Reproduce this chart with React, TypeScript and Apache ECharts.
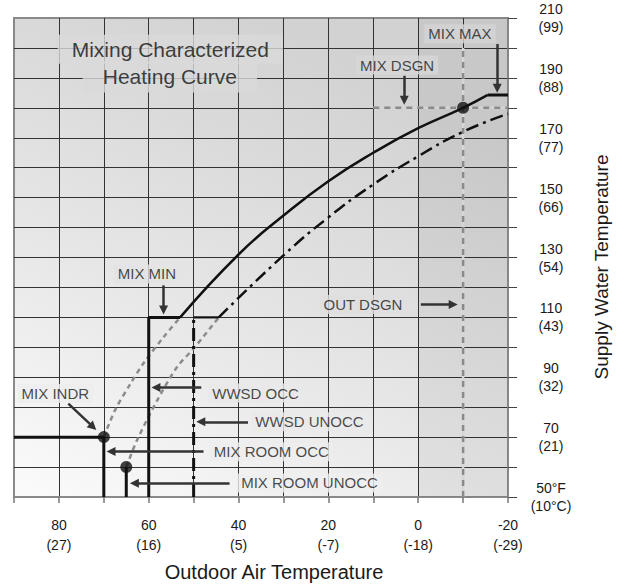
import React, { useEffect, useRef } from 'react';
import * as echarts from 'echarts';

const FONT = '"Liberation Sans", Arial, Helvetica, sans-serif';

// Axis tick labels
const xTicksF = [80, 60, 40, 20, 0, -20];
const xTicksC = ['(27)', '(16)', '(5)', '(-7)', '(-18)', '(-29)'];
const yTicksV = [50, 70, 90, 110, 130, 150, 170, 190, 210];
const yTicksF = ['50°F', '70', '90', '110', '130', '150', '170', '190', '210'];
const yTicksC = ['(10°C)', '(21)', '(32)', '(43)', '(54)', '(66)', '(77)', '(88)', '(99)'];

// Curves (outdoor °F, supply °F)
const occCurve = [[53, 110], [40, 131], [30, 144], [20, 155.5], [10, 165], [0, 173.2], [-10, 180], [-15.5, 184.3]];
const occMaxFlat = [[-15.5, 184.3], [-20, 184.3]];
const occMinStep = [[60, 50], [60, 110], [53, 110]];
const unoccCurve = [[44.4, 110], [30, 130.7], [20, 143.4], [10, 154.4], [0, 163.8], [-10, 172], [-20, 178]];
const unoccMinStep = [[50, 110], [44.4, 110]];
const unoccWwsd = [[50, 50], [50, 110]];
const occBoost = [[70, 70], [67.5, 79], [64, 88], [61, 95], [56.7, 103.4], [53, 110]];
const unoccBoost = [[65, 60], [62.6, 69], [58.1, 82.3], [53.7, 93.4], [50, 99.6], [44.4, 110]];
const mixIndrLine = [[90, 70], [70, 70], [70, 50]];
const mixRoomUnoccLine = [[65, 60], [65, 50]];
const outDsgnLine = [[-10, 50], [-10, 200]];
const mixDsgnLine = [[10, 180], [-20, 180]];
const keyPoints = [[70, 70], [65, 60], [-10, 180]];

// Annotations
const annoNames = ['MIX MAX', 'MIX DSGN', 'MIX MIN', 'OUT DSGN', 'WWSD OCC', 'WWSD UNOCC', 'MIX ROOM OCC', 'MIX ROOM UNOCC', 'MIX INDR'];
const annoPos = [[-9.3, 204.7], [4.7, 194.3], [60.4, 124.5], [12.3, 114.3], [36.2, 84.7], [24.2, 75.1], [32.7, 65.1], [24.2, 54.7], [80.8, 84.6]];
const annoBg = ['#d4d4d4', '#d7d7d7', '#e3e3e3', '#dfdfdf', '#e8e8e8', '#eaeaea', '#ededed', '#efefef', '#eeeeee'];
const arrowFrom = [[-17.6, 201.3], [3.1, 190.7], [56.7, 120.7], [-0.6, 114.3], [48.3, 86.6], [37.9, 75.1], [47.8, 65.2], [42, 54.6], [77.9, 81.2]];
const arrowTo = [[-17.6, 186.5], [3.1, 182.5], [56.7, 112.5], [-7.8, 114.3], [58.4, 86.6], [48.4, 75.1], [68.4, 65.2], [63.2, 54.6], [72.4, 73.4]];
const titleLines = ['Mixing Characterized', 'Heating Curve'];
const titlePos = [[55.2, 199.6], [55.3, 190.3]];

export default function App() {
  const ref = useRef<HTMLDivElement>(null);
  useEffect(() => {
    document.body.style.margin = '0';
    const chart = echarts.init(ref.current!, null, { renderer: 'svg' });

    const line = (data: number[][], color: string, width: number, type: any, smooth: any = false, extra: any = {}) => ({
      type: 'line',
      data,
      symbol: 'none',
      smooth,
      silent: true,
      lineStyle: { color, width, type, cap: 'butt' },
      ...extra,
    });

    const dashDot = [13, 5, 3, 5];

    const option: any = {
      animation: false,
      textStyle: { fontFamily: FONT },
      grid: {
        left: 14,
        right: 118,
        top: 17,
        bottom: 88,
        show: true,
        borderColor: '#8a8a8a',
        borderWidth: 2,
        backgroundColor: new echarts.graphic.LinearGradient(0, 1, 0.5, 0, [
          { offset: 0, color: '#fbfbfb' },
          { offset: 0.4, color: '#e9e9e9' },
          { offset: 0.8, color: '#d9d9d9' },
          { offset: 1, color: '#d2d2d2' },
        ]),
      },
      xAxis: {
        type: 'value',
        inverse: true,
        min: -20,
        max: 90,
        interval: 10,
        axisLine: { show: true, onZero: false, lineStyle: { color: '#8a8a8a', width: 2 } },
        axisTick: { show: true, length: 6, lineStyle: { color: '#777', width: 1.5 } },
        splitLine: { show: true, showMinLine: false, showMaxLine: false, lineStyle: { color: '#333', width: 1 } },
        axisLabel: {
          show: true,
          showMinLabel: true,
          showMaxLabel: true,
          margin: 18,
          fontSize: 14,
          lineHeight: 20,
          color: '#1a1a1a',
          fontFamily: FONT,
          formatter: (v: number) => {
            const i = xTicksF.indexOf(v);
            return i >= 0 ? `${v}\n${xTicksC[i]}` : '';
          },
        },
      },
      yAxis: {
        type: 'value',
        position: 'right',
        min: 50,
        max: 210,
        interval: 10,
        axisLine: { show: true, onZero: false, lineStyle: { color: '#8a8a8a', width: 2 } },
        axisTick: { show: true, length: 9, lineStyle: { color: '#444', width: 1 } },
        splitLine: { show: true, showMinLine: false, showMaxLine: false, lineStyle: { color: '#333', width: 1 } },
        axisLabel: {
          show: true,
          showMinLabel: true,
          showMaxLabel: true,
          margin: 43,
          align: 'center',
          fontSize: 14,
          lineHeight: 18,
          color: '#1a1a1a',
          fontFamily: FONT,
          formatter: (v: number) => {
            const i = yTicksV.indexOf(v);
            return i >= 0 ? `${yTicksF[i]}\n${yTicksC[i]}` : '';
          },
        },
      },
      graphic: [
        {
          type: 'text',
          x: 601,
          y: 267,
          rotation: Math.PI / 2,
          style: { text: 'Supply Water Temperature', fontSize: 19, fontFamily: FONT, fill: '#1a1a1a', align: 'center', verticalAlign: 'middle' },
        },
        {
          type: 'text',
          x: 274,
          y: 572,
          style: { text: 'Outdoor Air Temperature', fontSize: 20, fontFamily: FONT, fill: '#1a1a1a', align: 'center', verticalAlign: 'middle' },
        },
      ],
      series: [
        // masks under dashed design lines + darker cold region
        line(outDsgnLine, '#d6d6d6', 2.5, 'solid', false, {
          z: 2,
          markArea: {
            silent: true,
            itemStyle: { color: 'rgba(0,0,0,0.045)' },
            data: [[{ coord: [0, 50] }, { coord: [-20, 210] }]],
          },
        }),
        line(mixDsgnLine, '#d4d4d4', 2.5, 'solid', false, { z: 2 }),
        line(outDsgnLine, '#8a8a8a', 2.5, [6, 5], false, { z: 3 }),
        line(mixDsgnLine, '#8a8a8a', 2.5, [6, 5], false, { z: 3 }),
        // gray boost curves
        line(occBoost, '#8c8c8c', 2.5, [5, 4], 0.3, { z: 3 }),
        line(unoccBoost, '#8c8c8c', 2.5, [5, 4], 0.3, { z: 3 }),
        // occupied
        line(occMinStep, '#111', 3, 'solid', false, { z: 4 }),
        line(occCurve, '#111', 2.5, 'solid', 0.5, { z: 4 }),
        line(occMaxFlat, '#111', 3, 'solid', false, { z: 4 }),
        // unoccupied
        line(unoccWwsd, '#111', 3, dashDot, false, { z: 4 }),
        line(unoccMinStep, '#111', 2.2, 'solid', false, { z: 4 }),
        line(unoccCurve, '#111', 2.5, dashDot, 0.5, { z: 4 }),
        // indoor / room lines
        line(mixRoomUnoccLine, '#111', 3, 'solid', false, { z: 4 }),
        line(mixIndrLine, '#111', 3, 'solid', false, {
          z: 4,
          markLine: {
            silent: true,
            symbol: ['none', 'triangle'],
            symbolSize: 9,
            label: { show: false },
            lineStyle: { color: '#333', width: 2.5, type: 'solid' },
            data: arrowFrom.map((a, i) => [{ coord: a }, { coord: arrowTo[i] }]),
          },
        }),
        {
          type: 'scatter',
          data: keyPoints,
          symbolSize: 12,
          itemStyle: { color: '#111' },
          silent: true,
          z: 5,
        },
        {
          type: 'scatter',
          silent: true,
          z: 6,
          symbolSize: 1,
          itemStyle: { color: 'rgba(0,0,0,0)' },
          data: annoNames.map((n, i) => ({
            name: n,
            value: annoPos[i],
            label: {
              show: true,
              position: 'inside',
              formatter: '{b}',
              fontSize: 15,
              fontFamily: FONT,
              color: '#1a1a1a',
              backgroundColor: annoBg[i],
              padding: [2, 4],
            },
          })),
        },
        {
          type: 'scatter',
          silent: true,
          z: 6,
          symbolSize: 1,
          itemStyle: { color: 'rgba(0,0,0,0)' },
          data: titleLines.map((n, i) => ({
            name: n,
            value: titlePos[i],
            label: {
              show: true,
              position: 'inside',
              formatter: '{b}',
              fontSize: 21,
              fontFamily: FONT,
              color: '#111',
              backgroundColor: '#dadada',
              padding: i === 0 ? [4, 14] : [5, 20],
            },
          })),
        },
      ],
    };

    chart.setOption(option);
    return () => chart.dispose();
  }, []);

  return <div ref={ref} style={{ position: 'absolute', left: 0, top: 0, width: 626, height: 585 }} />;
}
